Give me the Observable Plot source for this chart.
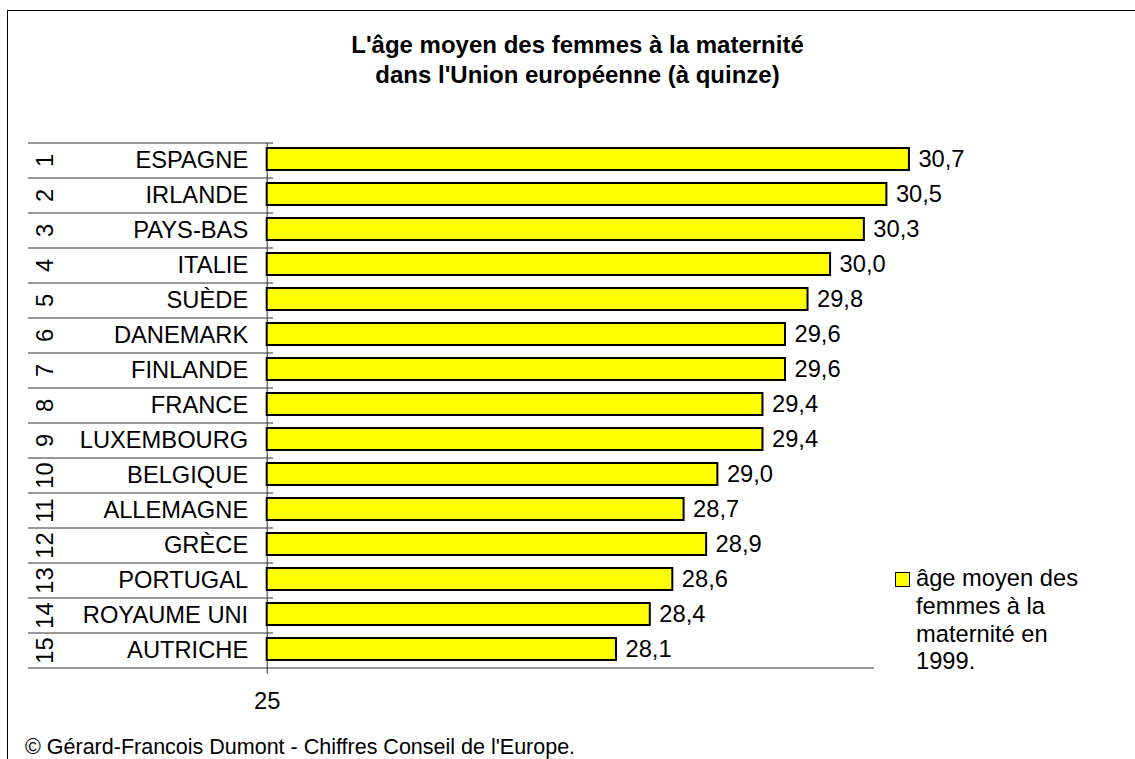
<!DOCTYPE html>
<html>
<head>
<meta charset="utf-8">
<script src="https://cdn.jsdelivr.net/npm/d3@7"></script>
<script src="https://cdn.jsdelivr.net/npm/@observablehq/plot@0.6"></script>
<style>
  html, body { margin: 0; padding: 0; background: #fff; }
  body { width: 1135px; height: 759px; overflow: hidden; position: relative; font-family: "Liberation Sans", Arial, sans-serif; }
  #frame { position: absolute; left: 7px; top: 10px; width: 1200px; height: 800px; border-left: 1px solid #000; border-top: 1px solid #000; }
  #chart { position: absolute; left: 0; top: 0; }
  .title { position: absolute; left: 0; width: 1155px; text-align: center; font-weight: bold; font-size: 24px; line-height: normal; color: #000; }
  #legend { position: absolute; left: 895px; top: 565px; font-size: 23.7px; line-height: 27.8px; color: #000; }
  #legend .sw { position: absolute; left: 0; top: 7px; width: 13px; height: 13px; background: #ffff00; border: 1.5px solid #000; }
  #legend .tx { margin-left: 21px; white-space: nowrap; }
  #caption { position: absolute; left: 25px; top: 735px; font-size: 21.5px; line-height: normal; color: #000; white-space: nowrap; }
</style>
</head>
<body>
<div id="frame"></div>
<div id="chart"></div>
<div class="title" style="top:31px">L'âge moyen des femmes à la maternité</div>
<div class="title" style="top:61px">dans l'Union européenne (à quinze)</div>
<div id="legend"><div class="sw"></div><div class="tx">âge moyen des<br>femmes à la<br>maternité en<br>1999.</div></div>
<div id="caption">© Gérard-Francois Dumont - Chiffres Conseil de l'Europe.</div>
<script>
const countries = ["ESPAGNE", "IRLANDE", "PAYS-BAS", "ITALIE", "SUÈDE", "DANEMARK", "FINLANDE", "FRANCE", "LUXEMBOURG", "BELGIQUE", "ALLEMAGNE", "GRÈCE", "PORTUGAL", "ROYAUME UNI", "AUTRICHE"];
const ranks = [1, 2, 3, 4, 5, 6, 7, 8, 9, 10, 11, 12, 13, 14, 15];
const ages = [30.7, 30.5, 30.3, 30.0, 29.8, 29.6, 29.6, 29.4, 29.4, 29.0, 28.7, 28.9, 28.6, 28.4, 28.1];
const xAxisMin = 25;
const xAxisMax = 30.39;
const xTicks = [25];

const data = countries.map((c, i) => ({country: c, rank: ranks[i], age: ages[i]}));
const fmt = v => d3.format(".1f")(v).replace(".", ",");

const W = 1135, H = 759;
const mLeft = 266.7, mRight = W - 874, mTop = 142.7, mBottom = H - 667.7;
const step = (H - mTop - mBottom) / countries.length;
const font = "Liberation Sans, Arial, sans-serif";
const fs = 23.7;

const chart = Plot.plot({
  width: W,
  height: H,
  marginLeft: mLeft,
  marginRight: mRight,
  marginTop: mTop,
  marginBottom: mBottom,
  style: {fontFamily: font, fontSize: fs + "px", color: "#000", background: "transparent"},
  x: {domain: [xAxisMin, xAxisMax], axis: null},
  y: {domain: countries, paddingInner: 0.37, paddingOuter: 0.185, axis: null},
  marks: [
    // row separators (category axis ticks)
    Plot.ruleY(countries, {y: d => d, dy: -step / 2, stroke: "#333", strokeWidth: 1, insetLeft: -(mLeft - 28), insetRight: 874 - 273}),
    Plot.ruleY(countries.slice(-1), {y: d => d, dy: step / 2, stroke: "#333", strokeWidth: 1, insetLeft: -(mLeft - 28), insetRight: 0}),
    // axis lines
    Plot.frame({anchor: "left", stroke: "#333", strokeWidth: 1}),
    Plot.axisX({ticks: xTicks, tickSize: 6, tickPadding: 18, tickFormat: d => String(d), fontSize: fs, stroke: "#333", label: null}),
    // category labels
    Plot.axisY({tickSize: 0, tickPadding: 19, fontSize: fs, label: null}),
    // rank numbers rotated
    Plot.text(data, {y: "country", text: d => String(d.rank), frameAnchor: "left", dx: 45 - mLeft, rotate: -90, textAnchor: "middle", fontSize: fs, fill: "#000"}),
    // bars
    Plot.barX(data, {y: "country", x1: () => xAxisMin, x2: "age", fill: "#ffff00", stroke: "#000", strokeWidth: 2, dy: -1}),
    // value labels
    Plot.text(data, {y: "country", x: "age", text: d => fmt(d.age), textAnchor: "start", dx: 9, dy: -1, fontSize: fs, fill: "#000"})
  ]
});
document.getElementById("chart").appendChild(chart);
</script>
</body>
</html>
